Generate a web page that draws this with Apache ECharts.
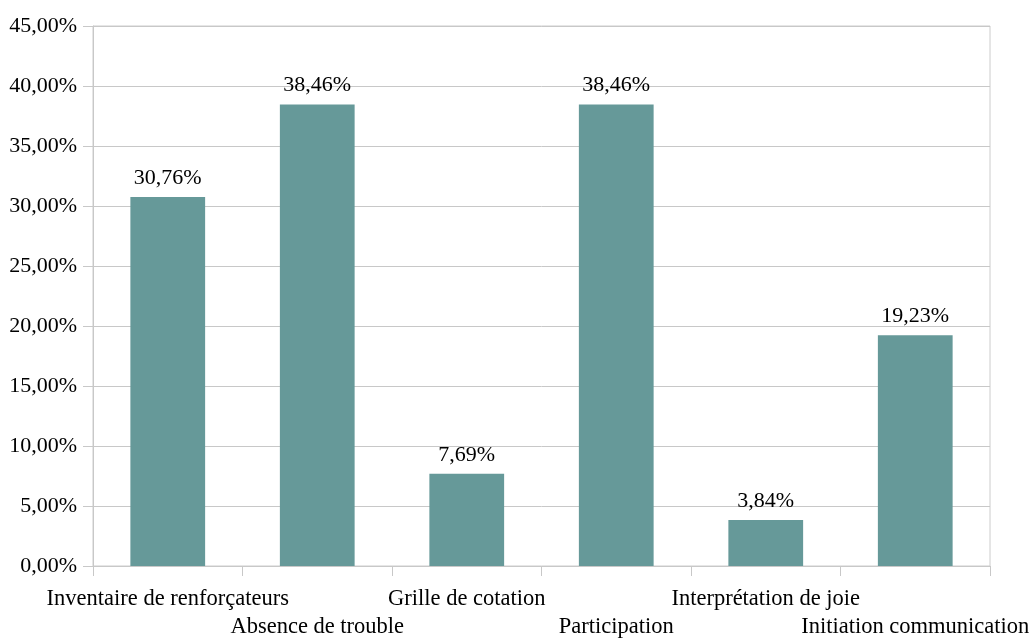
<!DOCTYPE html>
<html>
<head>
<meta charset="utf-8">
<script src="https://cdn.jsdelivr.net/npm/echarts@6/dist/echarts.min.js"></script>
<style>
  html, body { margin: 0; padding: 0; background: #fff; }
  #chart { width: 1032px; height: 638px; }
</style>
</head>
<body>
<div id="chart"></div>
<script>
// Category names along the x axis
const categories = [
  'Inventaire de renforçateurs',
  'Absence de trouble',
  'Grille de cotation',
  'Participation',
  'Interprétation de joie',
  'Initiation communication'
];
// Share of each item, in percent
const values = [30.76, 38.46, 7.69, 38.46, 3.84, 19.23];
// Y axis range and step, in percent
const yMin = 0;
const yMax = 45;
const yStep = 5;

const fmt = v => v.toFixed(2).replace('.', ',') + '%';
const FONT = '"Liberation Serif", "DejaVu Serif", serif';

const chart = echarts.init(document.getElementById('chart'), null, { renderer: 'canvas' });
chart.setOption({
  animation: false,
  backgroundColor: '#ffffff',
  grid: {
    left: 93, right: 42, top: 26, bottom: 72,
    containLabel: false,
    outerBoundsMode: 'none',
    show: true, borderColor: '#cccccc', borderWidth: 1
  },
  xAxis: {
    type: 'category',
    data: categories,
    axisLine: { lineStyle: { color: '#c8c8c8', width: 1 } },
    axisTick: { show: true, length: 10, alignWithLabel: false, lineStyle: { color: '#c8c8c8' } },
    axisLabel: {
      interval: 0,
      margin: 19,
      color: '#000',
      fontFamily: FONT,
      fontSize: 22.5,
      lineHeight: 28,
      formatter: (v, i) => (i % 2 === 1 ? '\n' + v : v)
    }
  },
  yAxis: {
    type: 'value',
    min: yMin, max: yMax, interval: yStep,
    axisLine: { show: true, lineStyle: { color: '#c8c8c8' } },
    axisTick: { show: true, length: 10, lineStyle: { color: '#c8c8c8' } },
    splitLine: { lineStyle: { color: '#c8c8c8', width: 1 } },
    axisLabel: {
      margin: 16,
      color: '#000',
      fontFamily: FONT,
      fontSize: 22,
      formatter: v => fmt(v)
    }
  },
  series: [{
    type: 'bar',
    data: values,
    barWidth: '50%',
    itemStyle: { color: '#669999' },
    label: {
      show: true,
      position: 'top',
      distance: 8,
      color: '#000',
      fontFamily: FONT,
      fontSize: 22,
      formatter: p => fmt(p.value)
    }
  }]
});
</script>
</body>
</html>
